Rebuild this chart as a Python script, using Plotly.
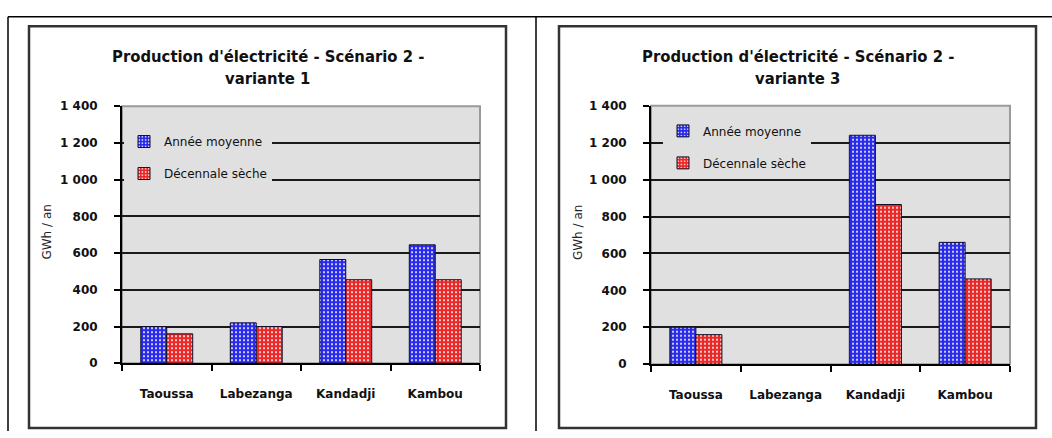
import plotly.graph_objects as go

categories = ["Taoussa", "Labezanga", "Kandadji", "Kambou"]
series_names = ["Année moyenne", "Décennale sèche"]
v1_moyenne = [200, 220, 565, 645]
v1_seche = [160, 200, 455, 455]
v3_moyenne = [200, None, 1240, 660]
v3_seche = [160, None, 865, 462]
ytick_vals = [0, 200, 400, 600, 800, 1000, 1200, 1400]
ytick_text = ["0", "200", "400", "600", "800", "1 000", "1 200", "1 400"]
titles = [("Production d'électricité - Scénario 2 -", "variante 1"),
          ("Production d'électricité - Scénario 2 -", "variante 3")]
ytitle = "GWh / an"

W, H = 1052, 438
BLUE = "#2a2aea"
RED = "#ea2828"
PLOT_BG = "#e0e0e0"
FONT = "DejaVu Sans"
TFONT = "DejaVu Sans Condensed, DejaVu Sans, sans-serif"

def px(x):
    return x / W

def py(y):
    return 1 - y / H

fig = go.Figure()

def add_bars(xa, ya, vals_a, vals_b, legend, show):
    for name, vals, col, grp in [(series_names[0], vals_a, BLUE, "a"),
                                 (series_names[1], vals_b, RED, "b")]:
        fig.add_trace(go.Bar(
            x=categories, y=vals, name=name, xaxis=xa, yaxis=ya,
            legend=legend, legendgroup=grp + legend, showlegend=show,
            marker=dict(color=col,
                        line=dict(color="#10102a", width=1),
                        pattern=dict(shape=".", fgcolor="white", bgcolor=col,
                                     size=4, solidity=0.2, fillmode="replace")),
        ))

add_bars("x", "y", v1_moyenne, v1_seche, "legend", True)
add_bars("x2", "y2", v3_moyenne, v3_seche, "legend2", True)

xdom1 = [px(122), px(480)]
xdom2 = [px(651), px(1010)]
ydom1 = [py(368), py(102.5)]
ydom2 = [py(369), py(102)]

def xaxis(dom, anchor):
    return dict(domain=dom, anchor=anchor, showgrid=False, showline=True,
                linecolor="black", linewidth=2, ticks="outside", tickson="boundaries",
                ticklen=6, tickwidth=1.5, tickcolor="black",
                tickfont=dict(family=FONT, size=12, color="#111", weight="bold"),
                ticklabelstandoff=18, fixedrange=True)

def yaxis(dom, anchor):
    return dict(domain=dom, anchor=anchor, range=[0, 1400], tickvals=ytick_vals,
                ticktext=ytick_text, showgrid=True, gridcolor="#1a1a1a", gridwidth=1.5,
                zeroline=False, showline=True, linecolor="black", linewidth=2,
                ticks="outside", ticklen=6, tickwidth=1.5, tickcolor="black",
                tickfont=dict(family=FONT, size=12, color="#111", weight="bold"),
                ticklabelstandoff=14, fixedrange=True)

shapes = []
shapes.append(dict(type="line", xref="paper", yref="paper", x0=px(8), x1=1, y0=py(10), y1=py(10),
                   line=dict(color="black", width=1.5)))
for xv in (8, 536):
    shapes.append(dict(type="line", xref="paper", yref="paper", x0=px(xv), x1=px(xv), y0=py(10), y1=0,
                       line=dict(color="black", width=1.5)))
for x0, x1 in ((29, 506), (559, 1036)):
    shapes.append(dict(type="rect", xref="paper", yref="paper", x0=px(x0), x1=px(x1), y0=py(435), y1=py(20),
                       line=dict(color="#333333", width=2.5)))
for xr, yr in (("x", "y"), ("x2", "y2")):
    shapes.append(dict(type="rect", xref=xr + " domain", yref=yr + " domain", x0=0, x1=1, y0=0, y1=1,
                       line=dict(color="#9a9a9a", width=2), layer="below"))

annotations = []
for i, (l1, l2) in enumerate(titles):
    cx = 267.5 + 530 * i
    for txt, yy in ((l1, 51), (l2, 74)):
        annotations.append(dict(text=txt, xref="paper", yref="paper",
                                x=px(cx), y=py(yy), xanchor="center", yanchor="middle",
                                showarrow=False,
                                font=dict(family=TFONT, size=16.5, color="#111", weight="bold")))
    annotations.append(dict(text=ytitle, xref="paper", yref="paper", x=px(47 + 530.5 * i), y=py(233),
                            xanchor="center", yanchor="middle", textangle=-90, showarrow=False,
                            font=dict(family=FONT, size=12, color="#222")))

legend_common = dict(bgcolor=PLOT_BG, borderwidth=0, xanchor="left", yanchor="top",
                     font=dict(family=FONT, size=12, color="#111"),
                     traceorder="grouped", tracegroupgap=13, itemclick=False, itemdoubleclick=False)

fig.update_layout(
    width=W, height=H, margin=dict(l=0, r=0, t=0, b=0),
    paper_bgcolor="white", plot_bgcolor=PLOT_BG,
    barmode="group", bargap=0.42, bargroupgap=0,
    xaxis=xaxis(xdom1, "y"), yaxis=yaxis(ydom1, "x"),
    xaxis2=xaxis(xdom2, "y2"), yaxis2=yaxis(ydom2, "x2"),
    legend=dict(x=px(124), y=py(124), **legend_common),
    legend2=dict(x=px(663), y=py(113), **legend_common),
    shapes=shapes, annotations=annotations,
)

fig.write_html("out.html", config={"displayModeBar": False},
               post_script="document.body.style.margin='0';document.body.style.overflow='hidden';")
